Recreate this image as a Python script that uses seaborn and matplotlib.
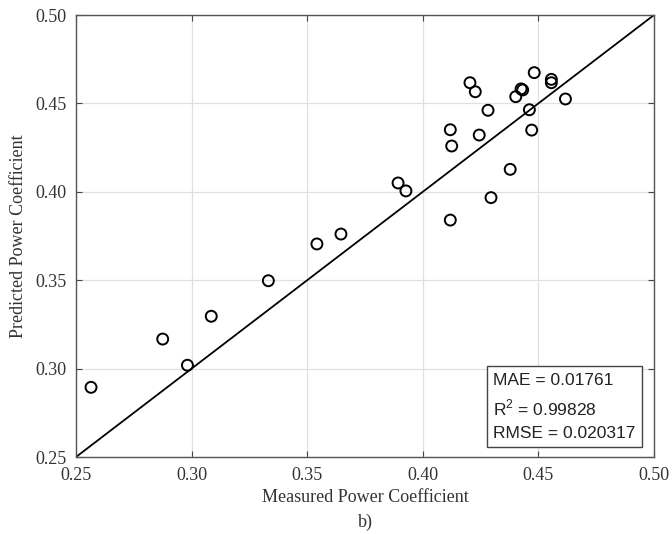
import matplotlib
matplotlib.use("Agg")
import matplotlib.pyplot as plt
import seaborn as sns
import pandas as pd

measured = [0.2565, 0.2875, 0.2982, 0.3085, 0.3332, 0.3542, 0.3646, 0.3893, 0.3927,
            0.4119, 0.4119, 0.4125, 0.4204, 0.4227, 0.4244, 0.4282, 0.4295, 0.4378,
            0.4402, 0.4425, 0.4432, 0.4461, 0.4471, 0.4482, 0.4556, 0.4556, 0.4617]
predicted = [0.2894, 0.3167, 0.3019, 0.3296, 0.3497, 0.3705, 0.3761, 0.4050, 0.4005,
             0.3840, 0.4351, 0.4259, 0.4617, 0.4566, 0.4321, 0.4461, 0.3967, 0.4127,
             0.4538, 0.4582, 0.4576, 0.4464, 0.4349, 0.4674, 0.4636, 0.4617, 0.4525]
ticks = [0.25, 0.30, 0.35, 0.40, 0.45, 0.50]
tick_labels = ["0.25", "0.30", "0.35", "0.40", "0.45", "0.50"]
metrics_text = "MAE = 0.01761\nR$^2$ = 0.99828\nRMSE = 0.020317"

df = pd.DataFrame({"Measured": measured, "Predicted": predicted})

sns.set_style("white")
plt.rcParams["font.family"] = ["Liberation Serif", "DejaVu Serif"]
plt.rcParams["mathtext.fontset"] = "custom"
plt.rcParams["mathtext.rm"] = "Liberation Sans"

fig = plt.figure(figsize=(6.72, 5.34), dpi=100)
ax = fig.add_axes([76/672, 1-457/534, (654-76)/672, (457-15)/534])

ax.axline((0.25, 0.25), slope=1, color="black", lw=1.3, zorder=2)
sns.scatterplot(data=df, x="Measured", y="Predicted", ax=ax, marker="o",
                facecolors="none", edgecolor="black", linewidth=1.4, s=62, zorder=3)

ax.set_xlim(0.25, 0.50)
ax.set_ylim(0.25, 0.50)
ax.set_xticks(ticks)
ax.set_yticks(ticks)
ax.set_xticklabels(tick_labels)
ax.set_yticklabels(tick_labels)
ax.grid(True, color="#e0e0e0", lw=0.9)
ax.set_axisbelow(True)
ax.tick_params(direction="in", length=4, width=0.8, color="#444444",
               labelsize=13, labelcolor="#333333", top=True, right=True,
               bottom=True, left=True, pad=7)
for sp in ax.spines.values():
    sp.set_color("#555555")
    sp.set_linewidth(1.0)

ax.set_xlabel("Measured Power Coefficient", fontsize=13, color="#333333", labelpad=4)
ax.set_ylabel("Predicted Power Coefficient", fontsize=13, color="#333333", labelpad=6)
fig.text(365/672, 1-522/534, "b)", ha="center", va="center", fontsize=13, color="#333333")

ax.text(0.722, 0.036, metrics_text, transform=ax.transAxes, ha="left", va="bottom",
        multialignment="left",
        fontsize=12.5, family=["Liberation Sans", "DejaVu Sans"], color="#222222",
        linespacing=1.6,
        bbox=dict(boxstyle="square,pad=0.36", facecolor="white", edgecolor="#444444", lw=1.0))

fig.savefig("out.png", dpi=100)
